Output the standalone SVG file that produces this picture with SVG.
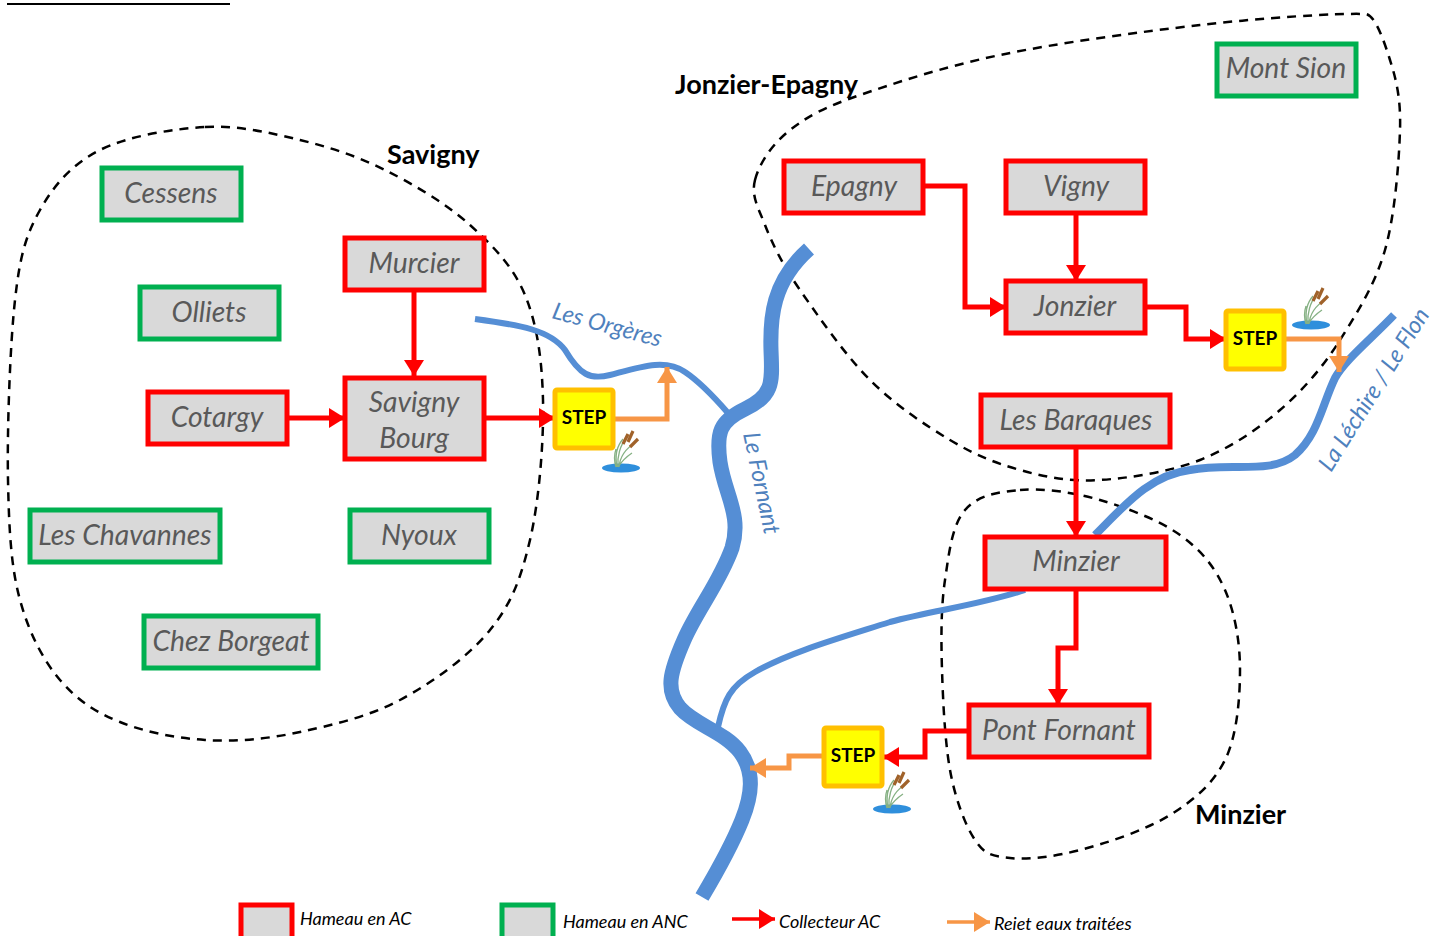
<svg xmlns="http://www.w3.org/2000/svg" width="1437" height="936" viewBox="0 0 1437 936">
<style>
.box rect{fill:#d9d9d9;stroke-width:5}
.ac rect{stroke:#ff0000}
.anc rect{stroke:#00b050}
.box text{font:italic 28.3px Lato,"Liberation Sans",sans-serif;fill:#595959;text-anchor:middle}
.step rect{fill:#ffff00;stroke:#ffc000;stroke-width:5}
.step text{font:bold 19px Lato,"Liberation Sans",sans-serif;fill:#000;text-anchor:middle}
.zone{fill:none;stroke:#000;stroke-width:2.5;stroke-dasharray:9 7}
.zl{font:bold 27px Lato,"Liberation Sans",sans-serif;fill:#000}
.river{fill:none;stroke:#558ed5;stroke-linejoin:round}
.rl{font:italic 23.5px Lato,"Liberation Sans",sans-serif;fill:#4f81bd}
.red{fill:none;stroke:#ff0000;stroke-width:5;marker-end:url(#hr)}
.or{fill:none;stroke:#f79646;stroke-width:5;marker-end:url(#ho)}
.thin{stroke-width:3.5}
.lg{font:italic 18px Lato,"Liberation Sans",sans-serif;fill:#000}
</style>
<defs>
<marker id="hr" markerUnits="userSpaceOnUse" markerWidth="18" markerHeight="20" refX="16" refY="10" orient="auto"><path d="M0 0L16 10L0 20Z" fill="#ff0000"/></marker>
<marker id="ho" markerUnits="userSpaceOnUse" markerWidth="18" markerHeight="20" refX="16" refY="10" orient="auto"><path d="M0 0L16 10L0 20Z" fill="#f79646"/></marker>
<g id="reed">
<ellipse cx="19" cy="37" rx="19" ry="4.5" fill="#2f8fdc"/>
<path d="M15 36C13 26 14 16 21 8M16 36C15 26 18 14 25 6M17 36C18 26 23 18 33 12M16 36C20 30 24 26 30 22M14 36C12 30 12 24 14 18" fill="none" stroke="#86b184" stroke-width="1.3"/>
<path d="M21 13L26 3M26 11L31 0M28 16L36 8" fill="none" stroke="#a0622a" stroke-width="3.2"/>
</g>
</defs>
<path d="M7 4H230" stroke="#000" stroke-width="2"/>
<g id="zones">
<path class="zone" d="M205 127C238 125 271 133 300 140S357 156 385 170S447 204 470 225S513 266 525 295S542 359 543 400S539 502 530 540S512 603 490 630S432 683 400 700S332 725 300 732S235 742 205 740S145 732 120 722S77 700 60 680S29 633 20 600S9 530 8 480S10 345 15 300S26 235 40 210S72 164 100 150S172 129 205 127Z"/>
<path class="zone" d="M755 180C759 164 772 144 790 130S825 107 860 95S943 67 1000 55S1139 32 1200 25S1335 13 1365 14C1375 14 1384 41 1390 60S1401 98 1400 130S1395 215 1385 250S1357 313 1340 340S1303 390 1280 410S1230 448 1200 460S1130 478 1100 480S1045 477 1020 470S975 455 950 440S895 405 870 380S818 316 800 290S772 243 765 225S751 196 755 180Z"/>
<path class="zone" d="M1020 490C1042 488 1073 492 1100 500S1159 520 1180 535S1215 567 1225 590S1240 642 1240 670S1237 736 1225 760S1194 800 1170 815S1107 843 1080 850S1028 860 1010 858S985 855 975 840S955 798 950 770S943 702 942 670S941 607 945 580S952 525 965 510S998 492 1020 490Z"/>
</g>
<g id="rivers">
<path class="river" stroke-width="15" d="M809 249C772 282 770 318 771 350C772 380 775 395 745 409C720 421 716 432 720 462C725 495 742 515 732 548C720 582 697 610 684 640C670 672 665 690 680 708C695 725 725 732 740 752C755 772 752 795 742 820C732 845 718 870 702 897"/>
<path class="river" stroke-width="6" d="M475 319C520 325 550 330 565 350C580 375 590 380 610 375C640 367 665 358 685 372C700 382 715 398 728 413"/>
<path class="river" stroke-width="6" d="M1025 590C980 605 935 610 890 622C840 638 790 652 755 672C730 686 724 700 718 727"/>
<path class="river" stroke-width="8" d="M1394 315C1370 340 1345 360 1335 378C1322 405 1318 435 1295 455C1270 475 1230 462 1190 470C1150 475 1125 505 1095 535"/>
</g>
<text class="rl" transform="translate(551 318) rotate(15)">Les Orgères</text>
<text class="rl" transform="translate(743 434) rotate(78)">Le Fornant</text>
<text class="rl" transform="translate(1331 473) rotate(-58)">La Léchire / Le Flon</text>
<text class="zl" x="387" y="164">Savigny</text>
<text class="zl" x="675" y="94">Jonzier-Epagny</text>
<text class="zl" x="1195" y="824">Minzier</text>
<g id="connectors">
<path class="red" d="M414 290V376"/>
<path class="red" d="M287 418H345"/>
<path class="red" d="M484 418H555"/>
<path class="red" d="M923 186H965V307H1006"/>
<path class="red" d="M1076 213V281"/>
<path class="red" d="M1145 307H1186V339H1226"/>
<path class="red" d="M1076 447V537"/>
<path class="red" d="M1076 589V648H1058V705"/>
<path class="red" d="M969 731H925V757H883"/>
<path class="or" d="M615 419H667V367"/>
<path class="or" d="M1285 339H1339V372"/>
<path class="or" d="M823 756H789V768H750"/>
<path class="red thin" d="M732 919H775"/>
<path class="or thin" d="M947 922H990"/>
</g>
<g id="cessens" class="box anc"><rect x="102" y="168" width="139" height="52"/><text x="171" y="203">Cessens</text></g>
<g id="murcier" class="box ac"><rect x="345" y="238" width="139" height="52"/><text x="414" y="273">Murcier</text></g>
<g id="olliets" class="box anc"><rect x="140" y="287" width="139" height="52"/><text x="209" y="322">Olliets</text></g>
<g id="cotargy" class="box ac"><rect x="148" y="392" width="139" height="52"/><text x="217" y="427">Cotargy</text></g>
<g id="savigny-bourg" class="box ac"><rect x="345" y="378" width="139" height="81"/><text x="414" y="412">Savigny</text><text x="414" y="448">Bourg</text></g>
<g id="les-chavannes" class="box anc"><rect x="30" y="510" width="190" height="52"/><text x="125" y="545">Les Chavannes</text></g>
<g id="nyoux" class="box anc"><rect x="350" y="510" width="139" height="52"/><text x="419" y="545">Nyoux</text></g>
<g id="chez-borgeat" class="box anc"><rect x="144" y="616" width="174" height="52"/><text x="231" y="651">Chez Borgeat</text></g>
<g id="mont-sion" class="box anc"><rect x="1217" y="44" width="139" height="52"/><text x="1286" y="78">Mont Sion</text></g>
<g id="epagny" class="box ac"><rect x="784" y="161" width="139" height="52"/><text x="854" y="196">Epagny</text></g>
<g id="vigny" class="box ac"><rect x="1006" y="161" width="139" height="52"/><text x="1076" y="196">Vigny</text></g>
<g id="jonzier" class="box ac"><rect x="1006" y="281" width="139" height="52"/><text x="1075" y="316">Jonzier</text></g>
<g id="les-baraques" class="box ac"><rect x="981" y="395" width="189" height="52"/><text x="1076" y="430">Les Baraques</text></g>
<g id="minzier" class="box ac"><rect x="985" y="537" width="181" height="52"/><text x="1076" y="571">Minzier</text></g>
<g id="pont-fornant" class="box ac"><rect x="969" y="705" width="180" height="52"/><text x="1059" y="740">Pont Fornant</text></g>
<g id="step-1" class="step"><rect x="555" y="390" width="58" height="58" rx="2"/><text x="584" y="424">STEP</text><use href="#reed" x="602" y="431"/></g>
<g id="step-2" class="step"><rect x="1226" y="311" width="58" height="58" rx="2"/><text x="1255" y="345">STEP</text><use href="#reed" x="1292" y="288"/></g>
<g id="step-3" class="step"><rect x="824" y="728" width="58" height="58" rx="2"/><text x="853" y="762">STEP</text><use href="#reed" x="873" y="772"/></g>
<g id="legend">
<g class="box ac"><rect x="241" y="905" width="51" height="40"/></g>
<g class="box anc"><rect x="502" y="905" width="51" height="40"/></g>
<text class="lg" x="300" y="925">Hameau en AC</text>
<text class="lg" x="563" y="928">Hameau en ANC</text>
<text class="lg" x="779" y="928">Collecteur AC</text>
<text class="lg" x="994" y="930">Reiet eaux traitées</text>
</g>
</svg>
